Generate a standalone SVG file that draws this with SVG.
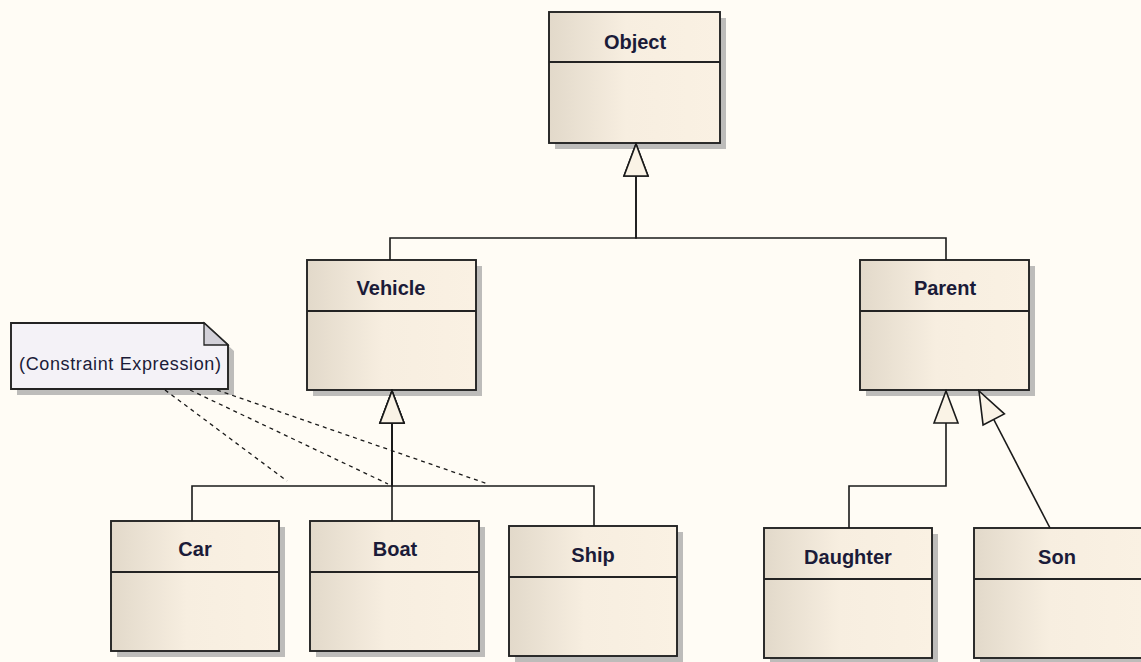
<svg xmlns="http://www.w3.org/2000/svg" width="1141" height="662" viewBox="0 0 1141 662">
<style>
.shadow{fill:#bdbcba}
.box{fill:url(#grad);stroke:#232323;stroke-width:1.9}
.div{stroke:#232323;stroke-width:1.9}
.title{font-family:"Liberation Sans",Arial,sans-serif;font-size:20px;font-weight:bold;fill:#1b1b38;text-anchor:middle}
.conn{fill:none;stroke:#1a1a1a;stroke-width:1.6}
.gen{marker-end:url(#tri)}
.dash{fill:none;stroke:#1a1a1a;stroke-width:1.3;stroke-dasharray:4,4}
.note{fill:#f4f2f7;stroke:#232323;stroke-width:1.9}
.notetxt{font-family:"Liberation Sans",Arial,sans-serif;font-size:18px;fill:#1b1b38;text-anchor:middle}
</style>
<defs>
<linearGradient id="grad" x1="0" y1="0" x2="1" y2="0">
<stop offset="0" stop-color="#e2d9ca"/>
<stop offset="0.45" stop-color="#f7eee0"/>
<stop offset="1" stop-color="#faf1e3"/>
</linearGradient>
<marker id="tri" markerUnits="userSpaceOnUse" markerWidth="36" markerHeight="28" viewBox="-2 -2 36 28" refX="32" refY="12" orient="auto">
<path d="M0,0 L32,12 L0,24 Z" fill="#faf3e6" stroke="#1a1a1a" stroke-width="1.6"/>
</marker>
</defs>
<rect width="1141" height="662" fill="#fffcf5"/>

<g id="object">
<rect class="shadow" x="555" y="18" width="171" height="131"/>
<rect class="box" x="549" y="12" width="171" height="131"/>
<line class="div" x1="549" y1="62" x2="720" y2="62"/>
<text class="title" x="635" y="49">Object</text>
</g>

<g id="vehicle">
<rect class="shadow" x="313" y="266" width="169" height="130"/>
<rect class="box" x="307" y="260" width="169" height="130"/>
<line class="div" x1="307" y1="311" x2="476" y2="311"/>
<text class="title" x="391" y="295">Vehicle</text>
</g>

<g id="parent">
<rect class="shadow" x="866" y="266" width="169" height="130"/>
<rect class="box" x="860" y="260" width="169" height="130"/>
<line class="div" x1="860" y1="311" x2="1029" y2="311"/>
<text class="title" x="945" y="295">Parent</text>
</g>

<g id="note">
<path class="shadow" d="M17 329 H210 L234 351 V395 H17 Z"/>
<path class="note" d="M11 323 H204 L228 345 V389 H11 Z"/>
<path d="M204 323 V345 H228 Z" fill="#d2d0d8" stroke="#232323" stroke-width="1.3"/>
<text class="notetxt" x="120" y="370" textLength="202" lengthAdjust="spacing">(Constraint Expression)</text>
</g>

<g id="car">
<rect class="shadow" x="117" y="527" width="168" height="130"/>
<rect class="box" x="111" y="521" width="168" height="130"/>
<line class="div" x1="111" y1="572" x2="279" y2="572"/>
<text class="title" x="195" y="556">Car</text>
</g>

<g id="boat">
<rect class="shadow" x="316" y="527" width="169" height="130"/>
<rect class="box" x="310" y="521" width="169" height="130"/>
<line class="div" x1="310" y1="572" x2="479" y2="572"/>
<text class="title" x="395" y="556">Boat</text>
</g>

<g id="ship">
<rect class="shadow" x="515" y="532" width="168" height="130"/>
<rect class="box" x="509" y="526" width="168" height="130"/>
<line class="div" x1="509" y1="577" x2="677" y2="577"/>
<text class="title" x="593" y="562">Ship</text>
</g>

<g id="daughter">
<rect class="shadow" x="770" y="534" width="168" height="130"/>
<rect class="box" x="764" y="528" width="168" height="130"/>
<line class="div" x1="764" y1="579" x2="932" y2="579"/>
<text class="title" x="848" y="564">Daughter</text>
</g>

<g id="son">
<rect class="shadow" x="980" y="534" width="168" height="130"/>
<rect class="box" x="974" y="528" width="168" height="130"/>
<line class="div" x1="974" y1="579" x2="1142" y2="579"/>
<text class="title" x="1057" y="564">Son</text>
</g>

<g id="connectors">
<path class="conn gen" d="M390 260 V238 H636 V144"/>
<path class="conn gen" d="M946 260 V238 H636 V144"/>
<path class="conn gen" d="M192 521 V486 H392 V391"/>
<path class="conn gen" d="M392 521 V391"/>
<path class="conn gen" d="M594 526 V486 H392 V391"/>
<path class="conn gen" d="M849 528 V486 H946 V391"/>
<path class="conn gen" d="M1050 528 L979 391"/>
<path class="dash" d="M165 390 L287 481"/>
<path class="dash" d="M190 390 L388 484"/>
<path class="dash" d="M217 390 L488 484"/>
</g>
</svg>
